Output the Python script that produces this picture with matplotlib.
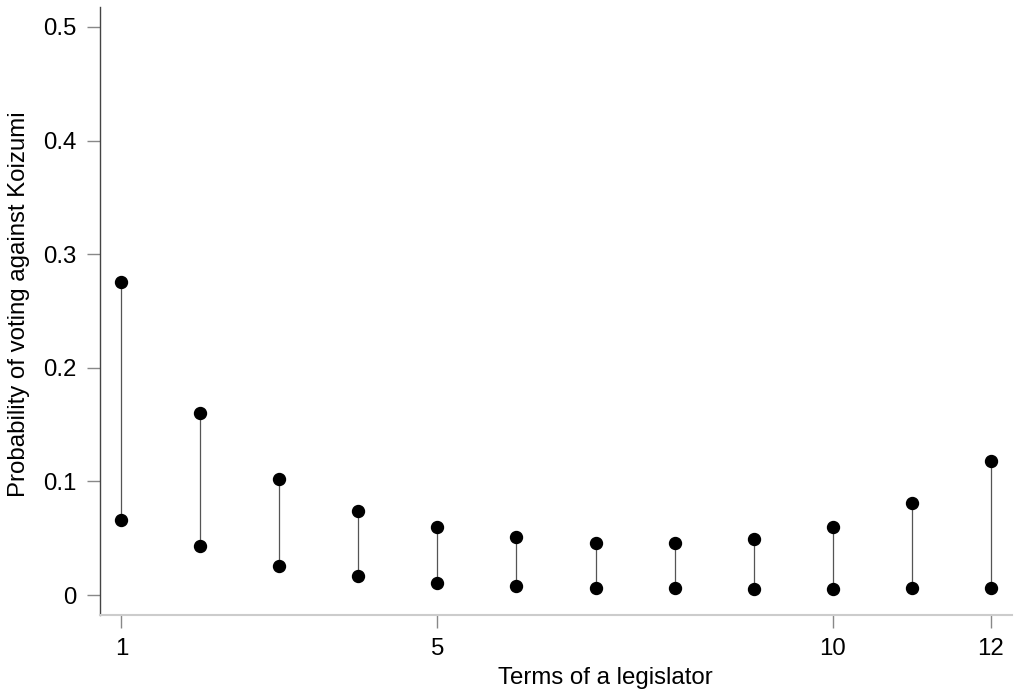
import matplotlib
matplotlib.use("Agg")
import matplotlib.pyplot as plt

terms = [1, 2, 3, 4, 5, 6, 7, 8, 9, 10, 11, 12]
upper = [0.2755, 0.160, 0.102, 0.074, 0.060, 0.051, 0.0458, 0.0458, 0.049, 0.060, 0.081, 0.118]
lower = [0.066, 0.043, 0.0255, 0.0167, 0.0106, 0.008, 0.006, 0.006, 0.0053, 0.0053, 0.006, 0.006]
xticks = [1, 5, 10, 12]
yticks = [0, 0.1, 0.2, 0.3, 0.4, 0.5]
ytick_labels = ["0", "0.1", "0.2", "0.3", "0.4", "0.5"]

plt.rcParams['font.family'] = ['Liberation Sans', 'DejaVu Sans']

fig = plt.figure(figsize=(10.2, 6.94), dpi=100)
ax = fig.add_axes([100/1020, 79/694, 912/1020, 608/694])

ax.vlines(terms, lower, upper, colors='#555555', linewidth=0.9, zorder=2)
ax.plot(terms, upper, 'o', color='black', markersize=8.6, zorder=3)
ax.plot(terms, lower, 'o', color='black', markersize=8.6, zorder=3)

ax.set_xlim(0.73, 12.27)
ax.set_ylim(-0.0176, 0.5176)
ax.set_xticks(xticks)
ax.set_xticklabels([str(t) for t in xticks])
ax.set_yticks(yticks)
ax.set_yticklabels(ytick_labels)

ax.spines['top'].set_visible(False)
ax.spines['right'].set_visible(False)
ax.spines['left'].set_color('#444444')
ax.spines['left'].set_linewidth(1.0)
ax.spines['bottom'].set_color('#cccccc')
ax.spines['bottom'].set_linewidth(1.5)

ax.tick_params(axis='both', which='major', length=9.4, width=1.0, color='#888888',
               labelsize=17.3, labelcolor='black', pad=7.5)

ax.set_xlabel("Terms of a legislator", fontsize=17.3)
ax.set_ylabel("Probability of voting against Koizumi", fontsize=17.3)
ax.xaxis.set_label_coords(0.5537, -0.0856)
ax.yaxis.set_label_coords(-0.0768, 0.5115)

fig.savefig("out.png", dpi=100)
